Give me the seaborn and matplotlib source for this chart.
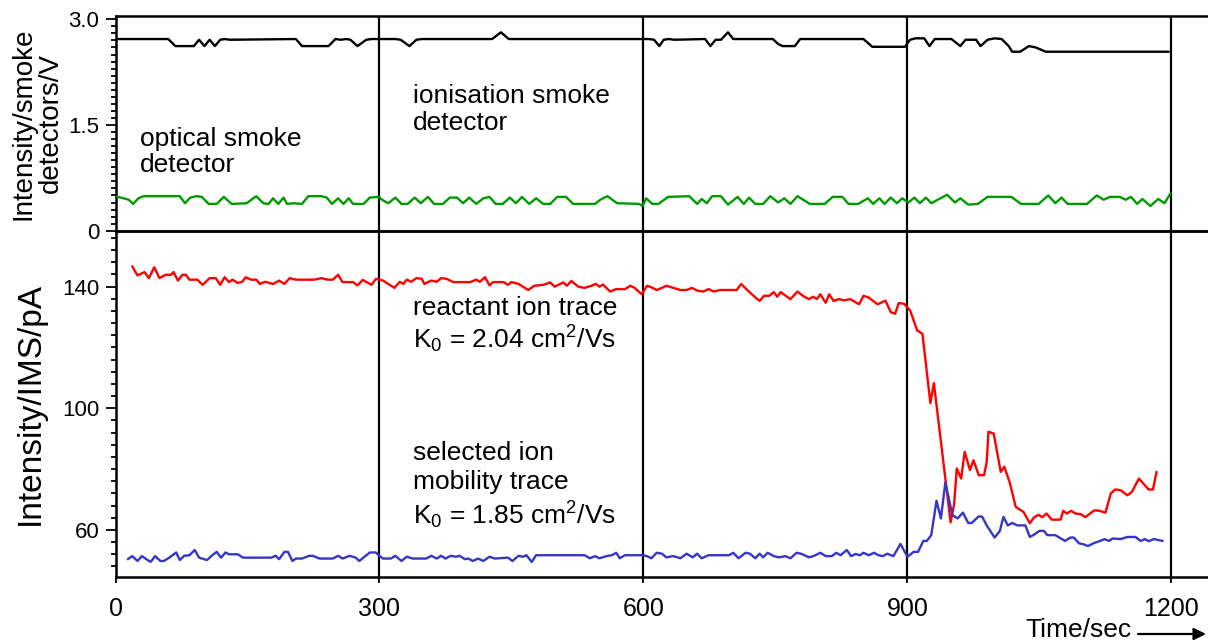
import matplotlib
matplotlib.use("Agg")
import matplotlib.pyplot as plt
import seaborn as sns
import pandas as pd
from matplotlib.ticker import MultipleLocator, FixedLocator

sns.set_style("ticks")
plt.rcParams["font.family"] = ["Liberation Sans", "DejaVu Sans"]
plt.rcParams["mathtext.default"] = "regular"
for k in ("text.color", "axes.labelcolor", "xtick.color", "ytick.color", "axes.edgecolor"):
    plt.rcParams[k] = "black"

# ---------------- data (time in s) ----------------
ionisation_detector = [(0, 2.72), (60, 2.72), (68, 2.62), (89, 2.62), (95, 2.71), (101, 2.62), (107, 2.71),
    (113, 2.62), (119, 2.71), (124, 2.72), (130, 2.71), (205, 2.72), (212, 2.62), (242, 2.62), (250, 2.72),
    (256, 2.71), (262, 2.72), (267, 2.71), (275, 2.62), (285, 2.71), (291, 2.72), (318, 2.72), (324, 2.71),
    (334, 2.62), (342, 2.71), (348, 2.72), (428, 2.72), (438, 2.815), (447, 2.72), (606, 2.72), (612, 2.71),
    (618, 2.62), (623, 2.71), (629, 2.72), (635, 2.71), (670, 2.72), (676, 2.62), (682, 2.71), (688, 2.71),
    (696, 2.815), (702, 2.72), (747, 2.72), (753, 2.65), (758, 2.62), (772, 2.62), (778, 2.72), (850, 2.72),
    (860, 2.61), (897, 2.61), (903, 2.71), (909, 2.73), (919, 2.73), (925, 2.62), (931, 2.72), (950, 2.72),
    (960, 2.62), (966, 2.71), (972, 2.71), (978, 2.71), (983, 2.62), (991, 2.71), (999, 2.73), (1007, 2.72),
    (1015, 2.62), (1019, 2.54), (1028, 2.54), (1038, 2.62), (1046, 2.60), (1057, 2.54), (1197, 2.54)]

optical_detector = [(0, 0.49), (15, 0.44), (20, 0.38), (26, 0.46), (32, 0.49), (73, 0.49), (79, 0.39),
    (85, 0.47), (92, 0.49), (98, 0.48), (106, 0.38), (115, 0.38), (123, 0.48), (132, 0.38), (149, 0.39),
    (160, 0.49), (168, 0.39), (174, 0.38), (179, 0.46), (185, 0.38), (191, 0.47), (195, 0.38), (202, 0.39),
    (212, 0.38), (219, 0.49), (234, 0.49), (240, 0.47), (246, 0.38), (253, 0.46), (259, 0.38), (265, 0.46),
    (270, 0.38), (282, 0.38), (289, 0.47), (299, 0.48), (304, 0.43), (310, 0.39), (318, 0.47), (325, 0.38),
    (332, 0.38), (340, 0.47), (347, 0.39), (355, 0.48), (362, 0.38), (372, 0.38), (380, 0.47), (388, 0.47),
    (395, 0.39), (402, 0.47), (410, 0.38), (418, 0.46), (425, 0.48), (432, 0.38), (440, 0.38), (448, 0.47),
    (455, 0.39), (462, 0.48), (470, 0.38), (478, 0.46), (486, 0.38), (494, 0.38), (502, 0.48), (512, 0.48),
    (520, 0.38), (545, 0.38), (551, 0.44), (559, 0.49), (570, 0.39), (595, 0.38), (599, 0.35), (603, 0.46),
    (610, 0.38), (617, 0.38), (628, 0.48), (652, 0.49), (661, 0.38), (666, 0.45), (672, 0.39), (678, 0.49),
    (688, 0.49), (696, 0.37), (707, 0.48), (714, 0.38), (720, 0.47), (727, 0.38), (736, 0.38), (744, 0.49),
    (753, 0.40), (760, 0.46), (767, 0.38), (775, 0.49), (789, 0.38), (806, 0.38), (815, 0.48), (826, 0.48),
    (833, 0.38), (844, 0.38), (855, 0.46), (861, 0.38), (868, 0.46), (874, 0.38), (881, 0.47), (888, 0.39),
    (894, 0.46), (901, 0.40), (908, 0.47), (914, 0.39), (921, 0.47), (927, 0.39), (936, 0.45), (945, 0.51),
    (954, 0.40), (960, 0.46), (969, 0.37), (980, 0.38), (991, 0.48), (1018, 0.48), (1029, 0.38), (1049, 0.38),
    (1060, 0.50), (1068, 0.39), (1075, 0.47), (1082, 0.38), (1104, 0.38), (1115, 0.50), (1123, 0.44),
    (1130, 0.48), (1141, 0.48), (1148, 0.44), (1154, 0.48), (1161, 0.38), (1167, 0.45), (1176, 0.35),
    (1185, 0.45), (1192, 0.39), (1199, 0.53)]

reactant_ion = [(19, 146.7), (25, 143.7), (33, 144.8), (38, 142.8), (44, 146.4), (50, 142.8), (57, 143.9),
    (63, 143.9), (66, 144.8), (71, 142.0), (76, 143.9), (80, 143.9), (84, 142.3), (93, 142.3), (99, 140.6),
    (107, 142.8), (114, 142.8), (119, 140.6), (124, 143.1), (129, 141.5), (133, 142.3), (139, 141.2),
    (144, 141.6), (148, 143.1), (154, 142.3), (160, 142.3), (164, 140.9), (170, 141.6), (179, 140.9),
    (186, 142.0), (192, 140.9), (198, 142.8), (205, 142.3), (226, 142.3), (234, 142.8), (241, 142.3),
    (247, 142.3), (253, 143.9), (258, 141.5), (270, 141.5), (275, 140.4), (281, 142.2), (291, 140.6),
    (296, 142.6), (304, 142.0), (310, 140.9), (317, 139.6), (323, 141.6), (327, 140.9), (331, 142.3),
    (336, 141.6), (342, 142.8), (348, 142.6), (351, 140.9), (359, 142.0), (365, 141.6), (370, 142.8),
    (376, 142.6), (384, 141.5), (403, 141.5), (410, 142.3), (414, 141.6), (420, 143.1), (425, 140.4),
    (429, 141.5), (441, 141.5), (446, 140.6), (450, 141.5), (458, 140.9), (469, 138.9), (476, 140.3),
    (486, 140.6), (494, 141.4), (499, 140.0), (509, 141.4), (513, 140.3), (518, 141.9), (526, 140.0),
    (533, 139.6), (541, 140.3), (546, 140.9), (550, 140.0), (554, 140.7), (562, 138.4), (569, 139.2),
    (579, 139.2), (585, 140.3), (590, 139.6), (598, 137.5), (604, 140.3), (609, 139.8), (615, 138.9),
    (621, 139.6), (626, 140.3), (634, 139.6), (642, 138.9), (649, 138.9), (655, 139.6), (661, 138.7),
    (668, 138.4), (674, 139.2), (680, 138.4), (687, 138.9), (706, 138.9), (711, 140.9), (718, 138.9),
    (725, 137.0), (732, 135.3), (737, 137.0), (743, 137.0), (748, 138.2), (752, 136.7), (756, 138.2),
    (763, 136.7), (767, 135.9), (775, 138.4), (781, 137.0), (788, 135.9), (793, 136.7), (797, 135.9),
    (801, 137.5), (807, 134.7), (811, 137.5), (816, 135.3), (822, 135.9), (828, 135.5), (835, 135.9),
    (845, 134.2), (850, 137.0), (856, 136.4), (866, 134.2), (875, 135.4), (881, 131.6), (886, 131.1),
    (890, 134.6), (896, 134.4), (903, 132.2), (911, 125.6), (917, 124.5), (926, 101.7), (930, 108.3),
    (949, 62.5), (953, 68.5), (956, 80.2), (961, 76.9), (965, 85.7), (971, 79.7), (975, 82.9), (981, 78.0),
    (987, 78.0), (990, 82.3), (992, 92.3), (998, 91.7), (1006, 79.1), (1010, 80.8), (1016, 75.8),
    (1023, 67.6), (1032, 65.9), (1039, 62.2), (1044, 64.2), (1049, 65.0), (1053, 64.2), (1058, 65.4),
    (1064, 63.4), (1074, 63.4), (1077, 66.3), (1081, 65.4), (1086, 66.3), (1091, 65.4), (1097, 65.2),
    (1102, 64.2), (1112, 66.4), (1117, 66.4), (1125, 65.7), (1131, 72.0), (1136, 73.3), (1142, 73.1),
    (1150, 71.4), (1155, 72.5), (1163, 76.9), (1174, 73.3), (1179, 73.3), (1183, 79.1)]

selected_ion = [(14, 50.4), (19, 51.4), (25, 49.8), (30, 51.4), (35, 50.4), (40, 49.5), (45, 51.4),
    (51, 49.8), (55, 49.8), (61, 50.9), (69, 52.6), (73, 50.1), (78, 51.5), (84, 51.7), (90, 53.4),
    (95, 50.9), (104, 50.1), (110, 51.7), (115, 52.8), (120, 50.9), (125, 52.6), (129, 52.0), (139, 52.0),
    (145, 50.9), (177, 50.9), (182, 51.5), (186, 50.4), (192, 52.8), (196, 52.8), (201, 49.8), (205, 50.6),
    (212, 50.6), (220, 51.5), (224, 51.5), (232, 50.6), (247, 50.6), (253, 51.5), (258, 50.6), (266, 51.5),
    (273, 50.9), (277, 49.8), (283, 51.2), (289, 52.6), (296, 52.6), (299, 51.7), (304, 50.6), (313, 50.6),
    (318, 51.5), (325, 49.8), (331, 51.2), (338, 50.6), (353, 50.6), (359, 51.5), (365, 50.6), (370, 51.5),
    (375, 50.6), (381, 51.5), (387, 51.2), (391, 51.5), (397, 50.4), (401, 50.6), (406, 49.8), (412, 50.6),
    (418, 49.8), (425, 51.2), (431, 50.6), (446, 50.9), (451, 49.8), (458, 51.5), (463, 51.2), (467, 51.7),
    (473, 49.5), (478, 51.7), (533, 51.7), (539, 50.7), (545, 51.4), (550, 50.7), (558, 51.4), (564, 51.7),
    (569, 52.5), (573, 50.7), (579, 51.7), (598, 51.7), (604, 51.4), (609, 50.7), (615, 52.5), (621, 52.2),
    (626, 51.0), (634, 51.4), (642, 50.7), (649, 52.2), (656, 51.0), (661, 52.2), (666, 50.7), (674, 51.7),
    (697, 51.7), (702, 52.5), (708, 50.7), (716, 52.5), (721, 52.2), (727, 50.7), (732, 52.2), (736, 51.0),
    (741, 52.5), (748, 51.4), (754, 51.0), (761, 51.4), (767, 50.7), (774, 52.5), (780, 52.1), (788, 51.0),
    (793, 51.4), (801, 52.5), (807, 51.4), (814, 51.4), (819, 52.5), (824, 51.7), (831, 53.4), (836, 51.4),
    (841, 52.1), (846, 51.7), (850, 52.5), (856, 51.7), (862, 52.5), (867, 51.7), (872, 51.4), (877, 52.2),
    (884, 51.4), (892, 55.4), (900, 51.2), (907, 52.8), (912, 52.8), (918, 56.4), (922, 56.4), (927, 58.3),
    (933, 69.6), (938, 63.8), (943, 75.6), (951, 64.9), (957, 63.8), (963, 65.7), (969, 62.3), (973, 62.3),
    (981, 64.5), (985, 64.3), (990, 61.5), (999, 57.5), (1005, 59.7), (1009, 64.3), (1014, 61.5),
    (1019, 62.3), (1025, 61.5), (1034, 61.5), (1039, 57.7), (1044, 58.5), (1050, 59.7), (1055, 59.7),
    (1059, 58.3), (1068, 58.3), (1079, 56.4), (1085, 57.5), (1089, 57.5), (1095, 55.6), (1100, 55.3),
    (1105, 54.7), (1112, 55.7), (1119, 56.4), (1124, 57.0), (1129, 56.4), (1133, 57.2), (1142, 57.0),
    (1150, 57.7), (1159, 57.7), (1165, 56.4), (1170, 57.0), (1174, 56.3), (1180, 57.0), (1190, 56.4)]

x_ticks = [0, 300, 600, 900, 1200]
x_tick_labels = ["0", "300", "600", "900", "1200"]
top_y_ticks = [0, 1.5, 3.0]
top_y_tick_labels = ["0", "1.5", "3.0"]
bot_y_ticks = [60, 100, 140]
bot_y_tick_labels = ["60", "100", "140"]

RED = "#ff0000"
BLUE = "#3535c8"
GREEN = "#009a00"
LW = 1.7

def frame(pairs):
    return pd.DataFrame(pairs, columns=["t", "v"])

W, H = 1208, 642
fig = plt.figure(figsize=(W / 100, H / 100), dpi=100)
left_px, right_px = 115.5, 1208
top_px, mid_px, bot_px = 16, 230.7, 576.5
ax_bot = fig.add_axes([left_px / W, 1 - bot_px / H, (right_px - left_px) / W, (bot_px - mid_px) / H])
ax_top = fig.add_axes([left_px / W, 1 - mid_px / H, (right_px - left_px) / W, (mid_px - top_px) / H])
ax_top.patch.set_alpha(0)
ax_bot.patch.set_alpha(0)

for ax in (ax_top, ax_bot):
    ax.set_xlim(0, 1241.5)
    for t in x_ticks[1:]:
        ax.axvline(t, color="black", lw=1.6, zorder=1)
    ax.spines["right"].set_visible(False)
    for s in ("left", "top", "bottom"):
        ax.spines[s].set_linewidth(1.8)
        ax.spines[s].set_color("black")
    ax.tick_params(axis="y", which="major", length=7.2, width=1.3, pad=4.5, labelsize=16, color="black")
    ax.tick_params(axis="y", which="minor", length=3.5, width=1.3, color="black")

sns.lineplot(data=frame(ionisation_detector), x="t", y="v", ax=ax_top, color="black", lw=LW,
             estimator=None, sort=False, legend=False, zorder=3)
sns.lineplot(data=frame(optical_detector), x="t", y="v", ax=ax_top, color=GREEN, lw=LW,
             estimator=None, sort=False, legend=False, zorder=3)
sns.lineplot(data=frame(reactant_ion), x="t", y="v", ax=ax_bot, color=RED, lw=LW,
             estimator=None, sort=False, legend=False, zorder=3)
sns.lineplot(data=frame(selected_ion), x="t", y="v", ax=ax_bot, color=BLUE, lw=LW,
             estimator=None, sort=False, legend=False, zorder=3)

# top panel axes
ax_top.set_ylim(0, 3.047)
ax_top.set_xlim(0, 1241.5)
ax_top.yaxis.set_major_locator(FixedLocator(top_y_ticks))
ax_top.set_yticklabels(top_y_tick_labels)
ax_top.yaxis.set_minor_locator(MultipleLocator(0.1))
ax_top.set_xticks([])
ax_top.set_xlabel("")
ax_top.set_ylabel("Intensity/smoke\ndetectors/V", fontsize=20, linespacing=1.05)
ax_top.yaxis.set_label_coords((64 - left_px) / (right_px - left_px), 0.5)

# bottom panel axes
ax_bot.set_ylim(44.7, 158.4)
ax_bot.set_xlim(0, 1241.5)
ax_bot.yaxis.set_major_locator(FixedLocator(bot_y_ticks))
ax_bot.set_yticklabels(bot_y_tick_labels)
ax_bot.yaxis.set_minor_locator(MultipleLocator(4))
ax_bot.set_xticks(x_ticks)
ax_bot.set_xticklabels(x_tick_labels)
ax_bot.tick_params(axis="x", which="major", length=4, width=1.3, pad=11, labelsize=18, color="black")
ax_bot.set_xlabel("")
ax_bot.set_ylabel("Intensity/IMS/pA", fontsize=24)
ax_bot.yaxis.set_label_coords((46 - left_px) / (right_px - left_px), 0.5)

# annotations
fs = 19
ax_top.text(28, 1.12, "optical smoke\ndetector", fontsize=fs, va="center", ha="left", linespacing=1.1)
ax_top.text(338, 1.72, "ionisation smoke\ndetector", fontsize=fs, va="center", ha="left", linespacing=1.2)
ax_bot.text(338, 127.3, "reactant ion trace\nK$_0$ = 2.04 cm$^2$/Vs", fontsize=fs, va="center",
            ha="left", linespacing=1.15)
ax_bot.text(338, 74.4, "selected ion\nmobility trace\nK$_0$ = 1.85 cm$^2$/Vs", fontsize=fs, va="center",
            ha="left", linespacing=1.25)

fig.text(1025 / W, 1 - 630 / H, "Time/sec", fontsize=19, va="center", ha="left")
ax_bot.annotate("", xy=(1206, H - 634), xycoords="figure pixels", xytext=(1138, H - 634),
                textcoords="figure pixels",
                arrowprops=dict(arrowstyle="-|>", color="black", lw=1.6, mutation_scale=18,
                                shrinkA=0, shrinkB=0))

fig.savefig("out.png", dpi=100)
